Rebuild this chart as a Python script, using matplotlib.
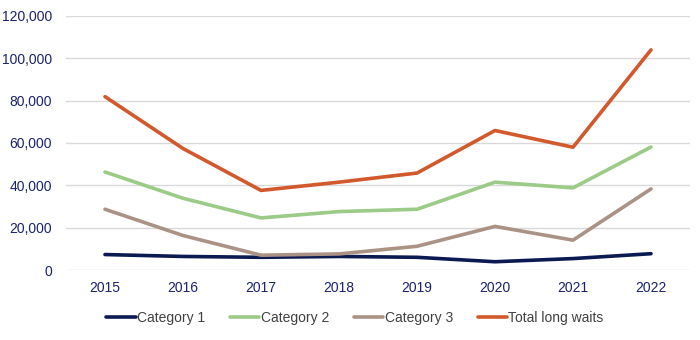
import numpy as np
import matplotlib.pyplot as plt
from matplotlib.ticker import FuncFormatter

years = ["2015", "2016", "2017", "2018", "2019", "2020", "2021", "2022"]
cat1 = [7300, 6400, 6000, 6400, 6000, 3900, 5400, 7700]
cat2 = [46300, 33900, 24600, 27600, 28700, 41500, 38800, 58100]
cat3 = [28700, 16300, 7000, 7600, 11200, 20600, 14100, 38300]
total = [81900, 57400, 37600, 41500, 45800, 65900, 58000, 104000]

plt.rcParams['font.family'] = ['Liberation Sans', 'DejaVu Sans']

fig = plt.figure(figsize=(7, 3.4), dpi=100)
ax = fig.add_axes([66/700, 1 - 270/340, 624/700, 254/340])

x = np.arange(len(years))
ax.plot(x, cat1, color='#0c1a52', lw=2.6, label='Category 1', solid_capstyle='round')
ax.plot(x, cat2, color='#9bcb86', lw=2.6, label='Category 2', solid_capstyle='round')
ax.plot(x, cat3, color='#aa9385', lw=2.6, label='Category 3', solid_capstyle='round')
ax.plot(x, total, color='#d2592c', lw=2.6, label='Total long waits', solid_capstyle='round')

ax.set_xlim(-0.5, len(years) - 0.5)
ax.set_ylim(0, 120000)
ax.set_yticks(np.arange(0, 120001, 20000))
ax.yaxis.set_major_formatter(FuncFormatter(lambda v, p: f"{int(v):,}"))
ax.set_xticks(x)
ax.set_xticklabels(years)
ax.grid(axis='y', color='#d9d9d9', lw=1)
ax.set_axisbelow(True)
for s in ax.spines.values():
    s.set_visible(False)
ax.tick_params(length=0, labelsize=10, labelcolor='#1b2270')
ax.tick_params(axis='x', pad=8)
ax.tick_params(axis='y', pad=10)

fig.legend(loc='center', bbox_to_anchor=(355/700, 1 - 318/340), ncol=4, frameon=False,
           fontsize=10, handlelength=2.1, handletextpad=0.1, columnspacing=1.8,
           labelcolor='#404040')

fig.savefig('out.png', dpi=100)
